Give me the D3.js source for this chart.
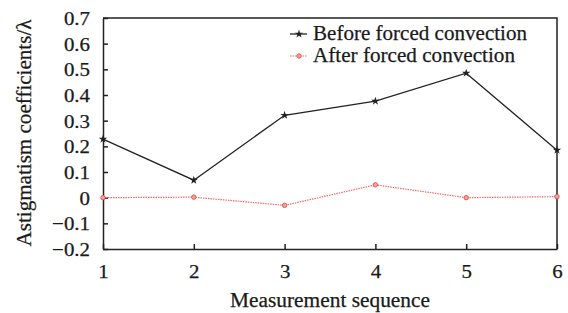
<!DOCTYPE html>
<html>
<head>
<meta charset="utf-8">
<script src="https://cdn.jsdelivr.net/npm/d3@7"></script>
<style>
  body { margin: 0; background: #fff; }
  text { font-family: "Liberation Serif", "Times New Roman", serif; fill: #1a1a1a; stroke: #1a1a1a; stroke-width: 0.25px; }
</style>
</head>
<body>
<div id="chart"></div>
<script>
const sequence = [1, 2, 3, 4, 5, 6];
const beforeValues = [0.228, 0.068, 0.321, 0.376, 0.485, 0.185];
const afterValues = [0.0, 0.002, -0.030, 0.050, 0.0, 0.004];
const yTicks = [-0.2, -0.1, 0, 0.1, 0.2, 0.3, 0.4, 0.5, 0.6, 0.7];

const width = 568, height = 313;
const margin = {left: 103, right: 11, top: 18, bottom: 64};

const svg = d3.select("#chart").append("svg")
    .attr("width", width)
    .attr("height", height);

const x = d3.scaleLinear().domain([1, 6]).range([margin.left, width - margin.right]);
const y = d3.scaleLinear().domain([-0.2, 0.7]).range([height - margin.bottom, margin.top]);

const fmt = d => d === 0 ? "0" : (d < 0 ? "\u2212" + Math.abs(d).toFixed(1) : d.toFixed(1));

// the reference text is a bit wider than Times, stretch it a little
const stretch = (sel, k) => sel.each(function () {
    const w = this.getComputedTextLength();
    d3.select(this).attr("textLength", w * k).attr("lengthAdjust", "spacingAndGlyphs");
});

// axes with inward ticks
const yAxis = svg.append("g")
    .attr("transform", `translate(${margin.left},0)`)
    .call(d3.axisLeft(y).tickValues(yTicks).tickSizeInner(-5).tickSizeOuter(0).tickPadding(13).tickFormat(fmt));
yAxis.selectAll("text").style("font-size", "19px").attr("dy", "0.35em").call(stretch, 1.1);

const xAxis = svg.append("g")
    .attr("transform", `translate(0,${height - margin.bottom})`)
    .call(d3.axisBottom(x).tickValues(sequence).tickSizeInner(-5).tickSizeOuter(0).tickPadding(16).tickFormat(d3.format("d")));
xAxis.selectAll("text").style("font-size", "19px").call(stretch, 1.1);

svg.selectAll(".domain, .tick line").attr("stroke", "#222").attr("stroke-width", 1.5);

// frame top and right
svg.append("path")
    .attr("d", `M${x(1)},${y(0.7)}H${x(6)}V${y(-0.2)}`)
    .attr("fill", "none").attr("stroke", "#222").attr("stroke-width", 1.5);

const line = d3.line().x((d, i) => x(sequence[i])).y(d => y(d));

svg.append("path").datum(afterValues)
    .attr("d", line).attr("fill", "none")
    .attr("stroke", "#ec6a63").attr("stroke-width", 1.2).attr("stroke-dasharray", "1.5,1");
svg.selectAll(".after").data(afterValues).enter().append("circle")
    .attr("cx", (d, i) => x(sequence[i])).attr("cy", d => y(d)).attr("r", 2.2)
    .attr("fill", "#f4a3a0").attr("stroke", "#e8554e").attr("stroke-width", 1);

svg.append("path").datum(beforeValues)
    .attr("d", line).attr("fill", "none")
    .attr("stroke", "#222").attr("stroke-width", 1.3);
const star = d3.symbol().type(d3.symbolStar).size(22);
svg.selectAll(".before").data(beforeValues).enter().append("path")
    .attr("d", star)
    .attr("transform", (d, i) => `translate(${x(sequence[i])},${y(d)})`)
    .attr("fill", "#222");

// legend
const legend = svg.append("g");
legend.append("line").attr("x1", 290).attr("x2", 307).attr("y1", 34).attr("y2", 34)
    .attr("stroke", "#222").attr("stroke-width", 1.3);
legend.append("path").attr("d", star).attr("transform", "translate(299,34)").attr("fill", "#222");
legend.append("text").attr("x", 313).attr("y", 40)
    .style("font-size", "21.5px").attr("textLength", 214).attr("lengthAdjust", "spacingAndGlyphs")
    .text("Before forced convection");
legend.append("line").attr("x1", 290).attr("x2", 307).attr("y1", 56).attr("y2", 56)
    .attr("stroke", "#ec6a63").attr("stroke-width", 1.2).attr("stroke-dasharray", "1.5,1");
legend.append("circle").attr("cx", 299).attr("cy", 56).attr("r", 2.2)
    .attr("fill", "#f4a3a0").attr("stroke", "#e8554e");
legend.append("text").attr("x", 313).attr("y", 62)
    .style("font-size", "21.5px").attr("textLength", 202).attr("lengthAdjust", "spacingAndGlyphs")
    .text("After forced convection");

// axis titles
svg.append("text")
    .attr("x", 330).attr("y", 307)
    .attr("text-anchor", "middle").style("font-size", "20px")
    .attr("textLength", 200).attr("lengthAdjust", "spacingAndGlyphs")
    .text("Measurement sequence");
svg.append("text")
    .attr("transform", `translate(31,133) rotate(-90)`)
    .attr("text-anchor", "middle").style("font-size", "20px")
    .attr("textLength", 227).attr("lengthAdjust", "spacingAndGlyphs")
    .text("Astigmatism coefficients/\u03bb");
</script>
</body>
</html>
